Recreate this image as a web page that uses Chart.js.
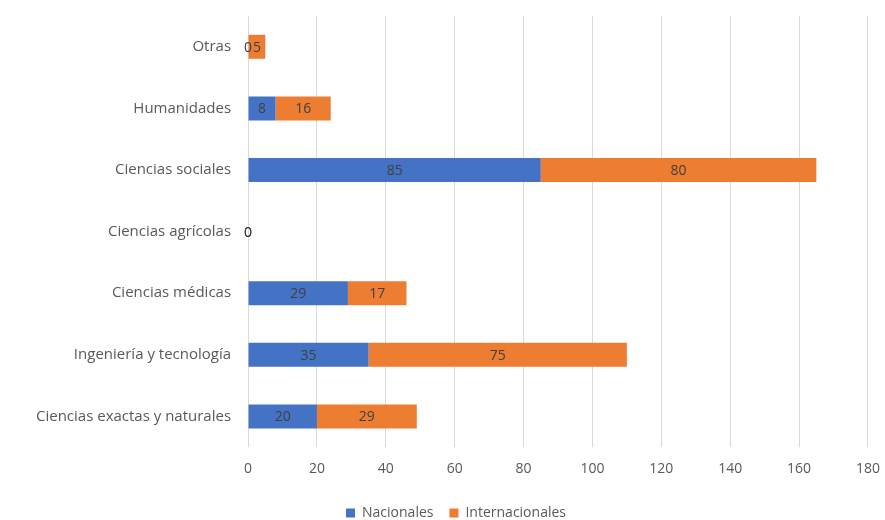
<!DOCTYPE html>
<html>
<head>
<meta charset="utf-8">
<script src="https://cdn.jsdelivr.net/npm/chart.js@4/dist/chart.umd.min.js"></script>
<style>
  html, body { margin: 0; padding: 0; background: #fff; overflow: hidden; }
  #wrap { width: 893px; height: 534px; position: relative; top: -10px; }
</style>
</head>
<body>
<div id="wrap"><canvas id="chart"></canvas></div>
<script>
// categories top to bottom, as in the picture
const categories = [
  "Otras",
  "Humanidades",
  "Ciencias sociales",
  "Ciencias agrícolas",
  "Ciencias médicas",
  "Ingeniería y tecnología",
  "Ciencias exactas y naturales"
];
const nacionales = [0, 8, 85, 0, 29, 35, 20];
const internacionales = [5, 16, 80, 0, 17, 75, 29];
const xTicks = [0, 20, 40, 60, 80, 100, 120, 140, 160, 180];

const FONT = "'Open Sans', 'Noto Sans', sans-serif";

// write each value in the middle of its bar
const barLabels = {
  id: "barLabels",
  afterDatasetsDraw(chart) {
    const ctx = chart.ctx;
    ctx.save();
    ctx.font = "14px " + FONT;
    ctx.fillStyle = "#404040";
    ctx.textAlign = "center";
    ctx.textBaseline = "middle";
    chart.data.datasets.forEach((ds, i) => {
      chart.getDatasetMeta(i).data.forEach((bar, j) => {
        const p = bar.getProps(["x", "y", "base"], true);
        ctx.fillText(String(ds.data[j]), (p.x + p.base) / 2, p.y + 1);
      });
    });
    ctx.restore();
  }
};

new Chart(document.getElementById("chart"), {
  type: "bar",
  data: {
    labels: categories,
    datasets: [
      { label: "Nacionales", data: nacionales, backgroundColor: "#4472C4",
        categoryPercentage: 0.39, barPercentage: 1 },
      { label: "Internacionales", data: internacionales, backgroundColor: "#ED7D31",
        categoryPercentage: 0.39, barPercentage: 1 }
    ]
  },
  options: {
    indexAxis: "y",
    responsive: true,
    maintainAspectRatio: false,
    animation: false,
    layout: { padding: { top: 0, right: 0, left: 19, bottom: -6 } },
    plugins: {
      legend: {
        position: "bottom",
        labels: {
          color: "#595959",
          font: { family: FONT, size: 14 },
          boxWidth: 9,
          boxHeight: 9,
          padding: 16
        }
      },
      tooltip: { enabled: false }
    },
    scales: {
      x: {
        stacked: true,
        min: 0,
        max: 180,
        afterBuildTicks: (axis) => { axis.ticks = xTicks.map(v => ({ value: v })); },
        ticks: { color: "#595959", font: { family: FONT, size: 14 }, padding: 13 },
        grid: { color: "#D9D9D9", drawTicks: false },
        border: { display: false }
      },
      y: {
        stacked: true,
        ticks: { color: "#595959", font: { family: FONT, size: 15 }, padding: 17 },
        grid: { display: false, drawTicks: false },
        border: { display: false }
      }
    }
  },
  plugins: [barLabels]
});
</script>
</body>
</html>
